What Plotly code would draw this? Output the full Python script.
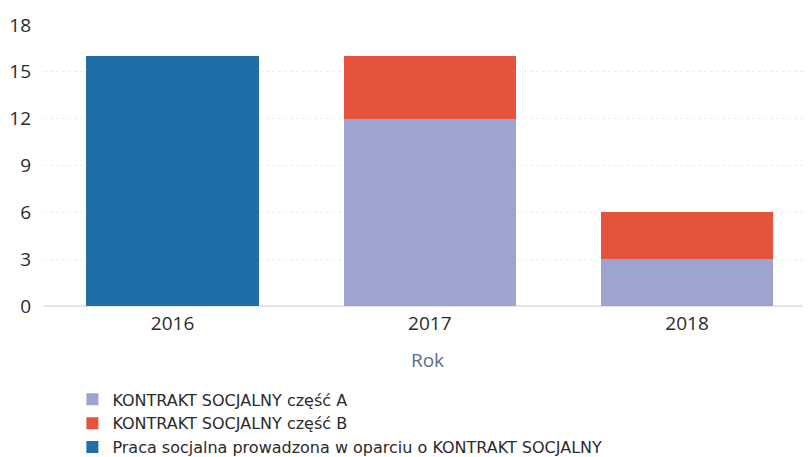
import plotly.graph_objects as go

years = ["2016", "2017", "2018"]
czesc_a = [None, 12, 3]
czesc_b = [None, 4, 3]
praca = [16, None, None]
y_ticks = [0, 3, 6, 9, 12, 15, 18]

series = [
    ("KONTRAKT SOCJALNY część A", czesc_a, "#9ca4cf"),
    ("KONTRAKT SOCJALNY część B", czesc_b, "#e5533c"),
    ("Praca socjalna prowadzona w oparciu o KONTRAKT SOCJALNY", praca, "#1f6ea7"),
]

fig = go.Figure()
for name, vals, col in series:
    fig.add_trace(go.Bar(x=years, y=vals, name=name,
                         marker=dict(color=col, line=dict(width=0))))

fig.update_layout(
    width=803, height=449,
    barmode="stack", bargap=0.33,
    paper_bgcolor="white", plot_bgcolor="white",
    margin=dict(l=36, r=0, t=17, b=151, autoexpand=False),
    font=dict(family="Open Sans", size=19, color="#2b2b2b"),
    showlegend=True,
    legend=dict(orientation="v", x=0.037, xanchor="left", y=-0.272, yanchor="top",
                traceorder="normal",
                font=dict(family="DejaVu Sans", size=16, color="#2b2b2b"),
                itemwidth=30, tracegroupgap=0, bgcolor="rgba(0,0,0,0)"),
    xaxis=dict(type="category", range=[-0.5, 2.482], showgrid=False,
               showline=False, ticks="", tickfont=dict(size=19),
               ticklabelstandoff=4,
               title=dict(text="Rok", font=dict(size=19, color="#5f6a8c"), standoff=18)),
    yaxis=dict(range=[0, 18], tickvals=y_ticks, showgrid=True,
               gridcolor="#efefef", griddash="dot", zeroline=True,
               zerolinecolor="#e4e4e4", showline=False, ticks="",
               tickfont=dict(size=19), ticklabelstandoff=12),
)

fig.write_html("out.html")
